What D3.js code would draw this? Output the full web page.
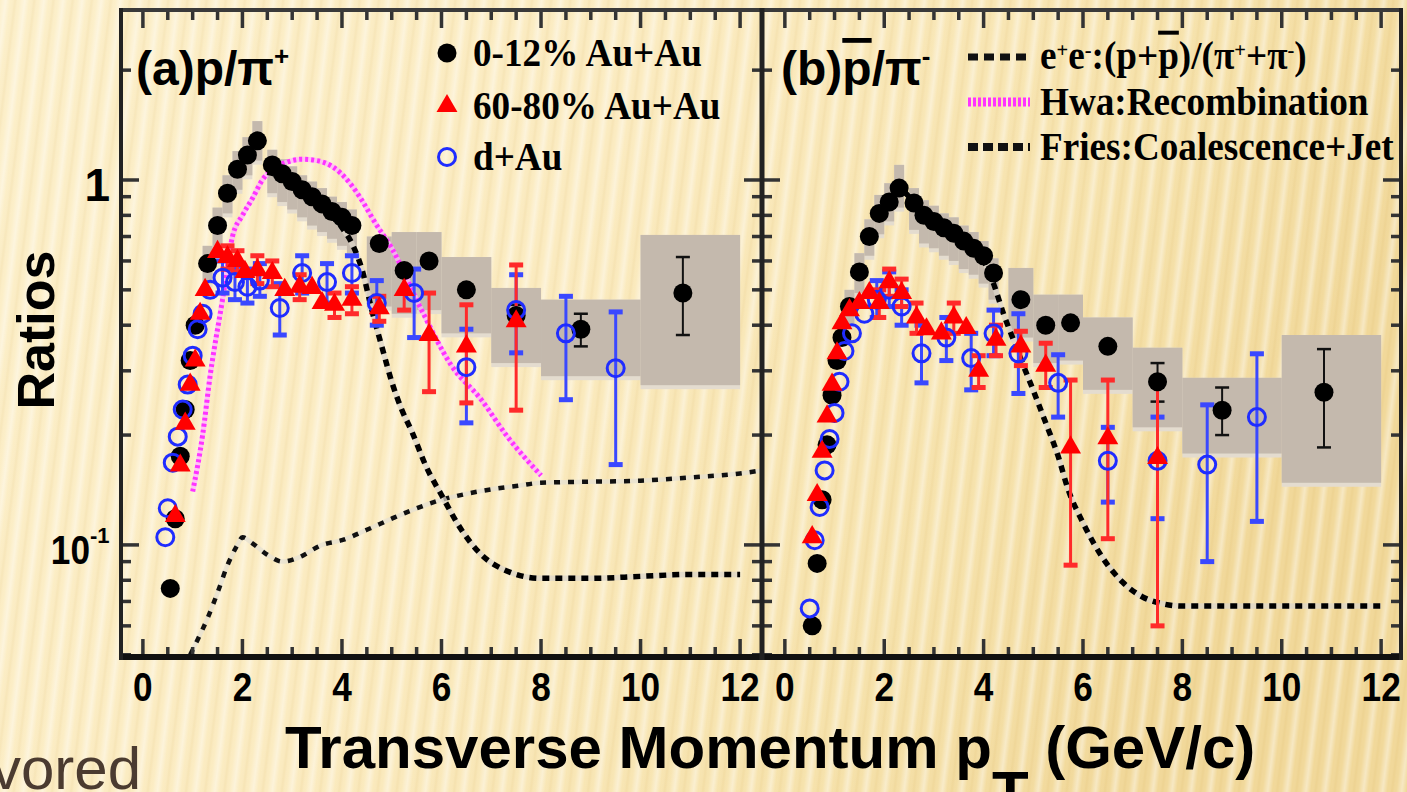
<!DOCTYPE html>
<html>
<head>
<meta charset="utf-8">
<script src="https://cdn.jsdelivr.net/npm/d3@7"></script>
<style>
  html, body { margin: 0; padding: 0; overflow: hidden; background: #fbecc3; }
  svg { display: block; }
</style>
</head>
<body>
<svg id="chart" width="1407" height="792"></svg>
<script>
// ---------- data: panel (a) p / pi+ ----------
// [pT, ratio]
const centralP = [[0.55,0.076],[0.65,0.118],[0.75,0.175],[0.85,0.235],[0.95,0.32],[1.05,0.40],
  [1.3,0.59],[1.5,0.75],[1.7,0.92],[1.9,1.07],[2.1,1.17],[2.3,1.28],
  [2.6,1.10],[2.8,1.04],[3.0,0.99],[3.2,0.94],[3.4,0.90],[3.6,0.86],[3.8,0.82],[4.0,0.79],[4.2,0.75],
  [4.75,0.67],[5.25,0.565],[5.75,0.60],[6.5,0.50],[7.5,0.425],[8.8,0.39],[10.85,0.49]];
// [pT, low, high] statistical errors
const centralPErr = [[7.5,0.40,0.455],[8.8,0.35,0.43],[10.85,0.376,0.615]];
// [pT low edge, pT high edge, low, high] systematic boxes
const centralPSys = [[1.2,1.4,0.52,0.66],[1.4,1.6,0.66,0.84],[1.6,1.8,0.81,1.03],[1.8,2.0,0.94,1.20],
  [2.0,2.2,1.03,1.31],[2.2,2.4,1.13,1.45],
  [2.5,2.7,0.92,1.21],[2.7,2.9,0.87,1.14],[2.9,3.1,0.83,1.09],[3.1,3.3,0.79,1.03],[3.3,3.5,0.75,0.99],
  [3.5,3.7,0.72,0.95],[3.7,3.9,0.69,0.90],[3.9,4.1,0.66,0.87],[4.1,4.3,0.63,0.83],
  [4.5,5.0,0.45,0.70],[5.0,5.5,0.43,0.72],[5.5,6.0,0.44,0.72],[6.0,7.0,0.38,0.615],[7.0,8.0,0.315,0.506],
  [8.0,10.0,0.29,0.47],[10.0,12.0,0.274,0.707]];

const peripheralP = [[0.65,0.12],[0.75,0.165],[0.85,0.215],[0.95,0.275],[1.05,0.32],[1.15,0.43],[1.25,0.50],
  [1.5,0.635],[1.7,0.615],[1.9,0.60],[2.05,0.56],[2.3,0.566],[2.6,0.556],[2.85,0.50],[3.15,0.51],[3.4,0.506],
  [3.6,0.46],[3.85,0.455],[4.2,0.47],[4.75,0.445],[5.25,0.50],[5.75,0.376],[6.5,0.35],[7.5,0.41]];
const peripheralPErr = [[1.7,0.57,0.66],[1.9,0.56,0.64],[2.3,0.52,0.62],[2.6,0.51,0.60],[3.15,0.47,0.55],
  [3.85,0.42,0.49],[4.2,0.43,0.51],[4.75,0.41,0.48],[5.25,0.44,0.577],[5.75,0.263,0.49],[6.5,0.245,0.455],[7.5,0.234,0.585]];

const dAuP = [[0.45,0.105],[0.5,0.126],[0.6,0.168],[0.7,0.198],[0.8,0.235],[0.9,0.275],[1.0,0.33],[1.1,0.39],
  [1.2,0.43],[1.35,0.50],[1.6,0.54],[1.85,0.525],[2.1,0.51],[2.35,0.53],[2.75,0.446],[3.2,0.556],[3.7,0.525],
  [4.2,0.556],[4.7,0.46],[5.45,0.49],[6.5,0.307],[7.5,0.44],[8.5,0.38],[9.5,0.305]];
const dAuPErr = [[1.6,0.49,0.60],[1.85,0.47,0.58],[2.1,0.46,0.57],[2.35,0.48,0.59],[2.75,0.376,0.52],[3.2,0.49,0.62],
  [3.7,0.46,0.59],[4.2,0.49,0.62],[4.7,0.40,0.53],[5.45,0.37,0.57],[6.5,0.216,0.39],[7.5,0.336,0.55],
  [8.5,0.25,0.48],[9.5,0.166,0.435]];

// model curves, panel (a)
const eeCurve = [[0.95,0.05],[1.1,0.055],[1.3,0.063],[1.5,0.074],[1.7,0.088],[1.9,0.1],[2.0,0.105],[2.2,0.101],
  [2.5,0.094],[2.8,0.09],[3.1,0.092],[3.6,0.1],[4.0,0.103],[4.5,0.11],[5.0,0.118],[5.5,0.126],[6.0,0.133],
  [6.5,0.138],[7.0,0.142],[7.5,0.145],[8.0,0.148],[9.0,0.149],[10.0,0.15],[11.0,0.153],[12.0,0.157],[12.44,0.16]];
const hwaCurve = [[1.0,0.14],[1.2,0.2],[1.35,0.29],[1.6,0.47],[1.8,0.70],[2.0,0.80],[2.2,0.89],[2.4,1.0],
  [2.6,1.07],[2.9,1.12],[3.2,1.14],[3.5,1.13],[3.8,1.09],[4.16,0.98],[4.4,0.88],[4.65,0.77],[5.0,0.65],
  [5.6,0.44],[6.2,0.31],[6.8,0.25],[7.3,0.2],[8.0,0.155]];
const friesCurveP = [[2.5,1.05],[2.8,1.02],[3.2,0.93],[3.6,0.84],[4.0,0.74],[4.2,0.67],[4.4,0.57],[4.6,0.44],
  [4.8,0.35],[5.0,0.28],[5.2,0.235],[5.4,0.205],[5.7,0.163],[6.0,0.137],[6.4,0.11],[6.8,0.094],[7.3,0.085],
  [8.0,0.081],[9.0,0.081],[10.0,0.082],[11.0,0.083],[12.0,0.083]];

// ---------- data: panel (b) pbar / pi- ----------
const centralPbar = [[0.55,0.06],[0.65,0.089],[0.75,0.133],[0.85,0.188],[0.95,0.257],[1.05,0.32],[1.15,0.37],
  [1.3,0.45],[1.5,0.56],[1.7,0.70],[1.9,0.81],[2.1,0.87],[2.3,0.95],
  [2.6,0.865],[2.8,0.80],[3.0,0.77],[3.2,0.74],[3.4,0.715],[3.6,0.68],[3.8,0.65],[4.0,0.62],[4.2,0.556],
  [4.75,0.47],[5.25,0.40],[5.75,0.406],[6.5,0.35],[7.5,0.28],[8.8,0.234],[10.85,0.262]];
const centralPbarErr = [[7.5,0.247,0.315],[8.8,0.2,0.27],[10.85,0.185,0.344]];
const centralPbarSys = [[1.2,1.4,0.40,0.50],[1.4,1.6,0.49,0.63],[1.6,1.8,0.62,0.78],[1.8,2.0,0.71,0.91],
  [2.0,2.2,0.77,0.98],[2.2,2.4,0.84,1.10],
  [2.5,2.7,0.73,0.95],[2.7,2.9,0.67,0.88],[2.9,3.1,0.65,0.85],[3.1,3.3,0.62,0.81],[3.3,3.5,0.60,0.79],
  [3.5,3.7,0.57,0.75],[3.7,3.9,0.55,0.72],[3.9,4.1,0.52,0.68],[4.1,4.3,0.47,0.61],
  [4.5,5.0,0.37,0.574],[5.0,5.5,0.315,0.485],[5.5,6.0,0.32,0.485],[6.0,7.0,0.266,0.42],[7.0,8.0,0.21,0.347],
  [8.0,10.0,0.178,0.287],[10.0,12.0,0.148,0.376]];

const peripheralPbar = [[0.55,0.105],[0.65,0.137],[0.75,0.18],[0.85,0.225],[0.95,0.275],[1.05,0.335],[1.15,0.405],
  [1.3,0.44],[1.5,0.46],[1.7,0.49],[1.9,0.46],[2.1,0.525],[2.35,0.49],[2.65,0.42],[2.85,0.39],[3.15,0.38],
  [3.4,0.42],[3.65,0.393],[3.9,0.30],[4.25,0.365],[4.75,0.35],[5.25,0.31],[5.75,0.185],[6.5,0.196],[7.5,0.173]];
const peripheralPbarErr = [[1.9,0.42,0.50],[2.1,0.48,0.57],[2.35,0.45,0.535],[2.65,0.38,0.46],[3.4,0.38,0.46],
  [3.9,0.27,0.33],[4.25,0.33,0.40],[4.75,0.31,0.385],[5.25,0.27,0.357],[5.75,0.088,0.283],[6.5,0.104,0.283],[7.5,0.06,0.283]];

const dAuPbar = [[0.5,0.067],[0.6,0.103],[0.7,0.127],[0.8,0.16],[0.9,0.195],[1.0,0.23],[1.1,0.28],[1.2,0.34],
  [1.35,0.38],[1.6,0.43],[1.85,0.47],[2.1,0.50],[2.35,0.45],[2.75,0.335],[3.25,0.37],[3.75,0.325],[4.2,0.38],
  [4.7,0.335],[5.5,0.278],[6.5,0.17],[7.5,0.17],[8.5,0.166],[9.5,0.224]];
const dAuPbarErr = [[1.85,0.42,0.53],[2.1,0.45,0.56],[2.35,0.40,0.50],[2.75,0.278,0.40],[3.25,0.32,0.42],
  [3.75,0.266,0.38],[4.2,0.33,0.44],[4.7,0.26,0.43],[5.5,0.224,0.332],[6.5,0.131,0.21],[7.5,0.118,0.224],
  [8.5,0.09,0.242],[9.5,0.116,0.334]];

const friesCurvePbar = [[2.4,0.93],[2.8,0.82],[3.2,0.74],[3.6,0.67],[4.0,0.6],[4.2,0.52],[4.4,0.43],[4.6,0.365],
  [4.8,0.31],[5.0,0.265],[5.2,0.225],[5.5,0.175],[5.7,0.142],[6.0,0.115],[6.4,0.092],[6.8,0.079],[7.2,0.072],
  [7.6,0.069],[8.0,0.068],[9.0,0.068],[10.0,0.068],[11.0,0.068],[12.0,0.068]];

// ---------- axes ----------
const xTickLabels = [0, 2, 4, 6, 8, 10, 12];
const xMinorTicks = d3.range(0, 12.01, 0.5);
const yMajorTicks = [0.1, 1];
const yMinorTicks = [0.05,0.06,0.07,0.08,0.09,0.2,0.3,0.4,0.5,0.6,0.7,0.8,0.9,2];

const legendAuAu = ["0-12% Au+Au", "60-80% Au+Au", "d+Au"];
const legendModels = ["Hwa:Recombination", "Fries:Coalescence+Jet"];

// ---------- layout ----------
const TOP = 10, BOTTOM = 657;
const y = d3.scaleLog().domain([0.0493, 2.923]).range([BOTTOM, TOP]);
const xA = d3.scaleLinear().domain([-0.44, 12.44]).range([121, 762]);
const xB = d3.scaleLinear().domain([-0.46, 12.4]).range([762, 1401]);

const svg = d3.select("#chart");
const defs = svg.append("defs");

// paper-like background
const bg = defs.append("linearGradient").attr("id", "bgGrad").attr("x1", 0).attr("x2", 1).attr("y1", 0).attr("y2", 0.3);
bg.append("stop").attr("offset", 0).attr("stop-color", "#fcefc9");
bg.append("stop").attr("offset", 0.45).attr("stop-color", "#fbebc0");
bg.append("stop").attr("offset", 0.8).attr("stop-color", "#f6e2ab");
bg.append("stop").attr("offset", 1).attr("stop-color", "#f1d899");

const sg = defs.append("linearGradient").attr("id", "stripeGrad").attr("x1", 0).attr("x2", 1).attr("y1", 0).attr("y2", 0);
sg.append("stop").attr("offset", 0).attr("stop-color", "#ffffff").attr("stop-opacity", 0);
sg.append("stop").attr("offset", 0.3).attr("stop-color", "#ffffff").attr("stop-opacity", 0.42);
sg.append("stop").attr("offset", 0.55).attr("stop-color", "#ffffff").attr("stop-opacity", 0);
sg.append("stop").attr("offset", 0.8).attr("stop-color", "#c89a40").attr("stop-opacity", 0.10);
sg.append("stop").attr("offset", 1).attr("stop-color", "#ffffff").attr("stop-opacity", 0);

const pat = defs.append("pattern").attr("id", "stripes").attr("patternUnits", "userSpaceOnUse")
  .attr("width", 19).attr("height", 400).attr("patternTransform", "rotate(7)");
pat.append("rect").attr("width", 19).attr("height", 400).attr("fill", "url(#stripeGrad)");

svg.append("rect").attr("width", 1407).attr("height", 792).attr("fill", "url(#bgGrad)");
svg.append("rect").attr("width", 1407).attr("height", 792).attr("fill", "url(#stripes)");

const SANS = "'Liberation Sans', Arial, Helvetica, sans-serif";
const SERIF = "'Liberation Serif', 'Times New Roman', serif";

function drawPanel(id, x, d) {
  const g = svg.append("g").attr("class", "panel-" + id);
  const [x0, x1] = x.range();
  defs.append("clipPath").attr("id", "clip-" + id)
    .append("rect").attr("x", x0).attr("y", TOP).attr("width", x1 - x0).attr("height", BOTTOM - TOP);
  const plot = g.append("g").attr("clip-path", `url(#clip-${id})`);

  // systematic error boxes, with a pale lower rim
  const boxes = plot.append("g");
  boxes.selectAll("rect.rim").data(d.sys).join("rect").attr("class", "rim")
    .attr("x", b => x(b[0])).attr("width", b => x(b[1]) - x(b[0]))
    .attr("y", b => y(b[3])).attr("height", b => y(b[2]) - y(b[3]) + 4)
    .attr("fill", "#e4dccf");
  boxes.selectAll("rect.box").data(d.sys).join("rect").attr("class", "box")
    .attr("x", b => x(b[0])).attr("width", b => x(b[1]) - x(b[0]))
    .attr("y", b => y(b[3])).attr("height", b => y(b[2]) - y(b[3]))
    .attr("fill", "#c4b9ad");

  // model curves: pale underlay, then the dotted line
  const line = d3.line().x(p => x(p[0])).y(p => y(p[1])).curve(d3.curveMonotoneX);
  d.curves.forEach(c => {
    plot.append("path").attr("d", line(c.data)).attr("fill", "none")
      .attr("stroke", c.halo).attr("stroke-width", c.width).attr("stroke-opacity", 0.75);
    plot.append("path").attr("d", line(c.data)).attr("fill", "none")
      .attr("stroke", c.color).attr("stroke-width", c.width).attr("stroke-dasharray", c.dash);
  });

  // error bars
  function errBars(data, color, width, capW, capH) {
    const eg = plot.append("g");
    eg.selectAll("line").data(data).join("line")
      .attr("x1", e => x(e[0])).attr("x2", e => x(e[0]))
      .attr("y1", e => y(e[1])).attr("y2", e => y(e[2]))
      .attr("stroke", color).attr("stroke-width", width);
    data.forEach(e => {
      [e[1], e[2]].forEach(v => {
        eg.append("rect").attr("x", x(e[0]) - capW / 2).attr("y", y(v) - capH / 2)
          .attr("width", capW).attr("height", capH).attr("fill", color);
      });
    });
  }
  errBars(d.centralErr, "#111111", 2, 14, 2.5);
  errBars(d.dAuErr, "#3a48ff", 3, 14, 5);
  errBars(d.periphErr, "#ff2a2a", 3, 14, 5);

  // markers
  plot.append("g").selectAll("circle").data(d.central).join("circle")
    .attr("cx", p => x(p[0])).attr("cy", p => y(p[1])).attr("r", 9.5).attr("fill", "#000");
  plot.append("g").selectAll("circle").data(d.dAu).join("circle")
    .attr("cx", p => x(p[0])).attr("cy", p => y(p[1])).attr("r", 8.5)
    .attr("fill", "none").attr("stroke", "#1f2cff").attr("stroke-width", 3);
  const tri = d3.symbol(d3.symbolTriangle, 190);
  plot.append("g").selectAll("path").data(d.periph).join("path")
    .attr("d", tri).attr("transform", p => `translate(${x(p[0])},${y(p[1])})`).attr("fill", "#ff0000");

  // ticks
  const tk = g.append("g").attr("stroke", "#333").attr("stroke-width", 3.5);
  xMinorTicks.forEach(v => {
    const len = (v % 2 === 0) ? 18 : 10;
    tk.append("line").attr("x1", x(v)).attr("x2", x(v)).attr("y1", BOTTOM).attr("y2", BOTTOM - len);
    tk.append("line").attr("x1", x(v)).attr("x2", x(v)).attr("y1", TOP).attr("y2", TOP + len);
  });
  yMajorTicks.concat(yMinorTicks).forEach(v => {
    const len = yMajorTicks.includes(v) ? 18 : 10;
    tk.append("line").attr("x1", x0).attr("x2", x0 + len).attr("y1", y(v)).attr("y2", y(v));
    tk.append("line").attr("x1", x1).attr("x2", x1 - len).attr("y1", y(v)).attr("y2", y(v));
  });

  // x tick labels
  g.append("g").selectAll("text").data(xTickLabels).join("text")
    .attr("transform", v => `translate(${x(v)},701) scale(0.88,1)`)
    .attr("text-anchor", "middle").attr("font-family", SANS).attr("font-weight", "bold")
    .attr("font-size", 40).attr("fill", "#000").text(v => v);
  return g;
}

drawPanel("a", xA, {
  central: centralP, centralErr: centralPErr, sys: centralPSys,
  periph: peripheralP, periphErr: peripheralPErr, dAu: dAuP, dAuErr: dAuPErr,
  curves: [
    { data: eeCurve, color: "#111", halo: "#e6e0d2", width: 4.5, dash: "6,8" },
    { data: hwaCurve, color: "#ff33ff", halo: "#ffb3ff", width: 5, dash: "3,3" },
    { data: friesCurveP, color: "#000", halo: "#dcd6ca", width: 5.5, dash: "7,6" }
  ]
});
drawPanel("b", xB, {
  central: centralPbar, centralErr: centralPbarErr, sys: centralPbarSys,
  periph: peripheralPbar, periphErr: peripheralPbarErr, dAu: dAuPbar, dAuErr: dAuPbarErr,
  curves: [
    { data: friesCurvePbar, color: "#000", halo: "#dcd6ca", width: 5.5, dash: "7,6" }
  ]
});

// frame
const frame = svg.append("g").attr("fill", "none");
frame.append("line").attr("x1", 119).attr("x2", 1403).attr("y1", TOP).attr("y2", TOP).attr("stroke", "#3a3a3a").attr("stroke-width", 4);
frame.append("line").attr("x1", 119).attr("x2", 1403).attr("y1", BOTTOM).attr("y2", BOTTOM).attr("stroke", "#111").attr("stroke-width", 6);
[121, 762, 1401].forEach(px => {
  frame.append("line").attr("x1", px).attr("x2", px).attr("y1", TOP - 2).attr("y2", BOTTOM + 3)
    .attr("stroke", "#222").attr("stroke-width", px === 762 ? 5 : 4);
});

// y tick labels
svg.append("text").attr("transform", `translate(${110},${y(1) + 21})`)
  .attr("text-anchor", "end").attr("font-family", SANS).attr("font-weight", "bold").attr("font-size", 46).text("1");
svg.append("text").attr("transform", `translate(${90},${y(0.1) + 19}) scale(0.88,1)`)
  .attr("text-anchor", "end").attr("font-family", SANS).attr("font-weight", "bold").attr("font-size", 40).text("10");
svg.append("text").attr("x", 90).attr("y", y(0.1) - 2)
  .attr("font-family", SANS).attr("font-weight", "bold").attr("font-size", 22).text("-1");

// axis titles
svg.append("text").attr("transform", "translate(54,330) rotate(-90)")
  .attr("text-anchor", "middle").attr("font-family", SANS).attr("font-weight", "bold")
  .attr("font-size", 52).attr("fill", "#000").text("Ratios");
const xt = svg.append("text").attr("x", 285).attr("y", 768)
  .attr("font-family", SANS).attr("font-weight", "bold").attr("font-size", 60).attr("fill", "#000");
xt.append("tspan").text("Transverse Momentum p");
xt.append("tspan").attr("dy", 45).text("T");
xt.append("tspan").attr("dy", -45).text(" (GeV/c)");

// panel labels
const la = svg.append("text").attr("x", 136).attr("y", 85)
  .attr("font-family", SANS).attr("font-weight", "bold").attr("font-size", 48).attr("fill", "#000");
la.append("tspan").text("(a)p/\u03c0");
la.append("tspan").attr("dy", -20).attr("font-size", 26).text("+");
const lb = svg.append("text").attr("x", 781).attr("y", 85)
  .attr("font-family", SANS).attr("font-weight", "bold").attr("font-size", 48).attr("fill", "#000");
lb.append("tspan").text("(b)");
lb.append("tspan").attr("text-decoration", "overline").text("p");
lb.append("tspan").text("/\u03c0");
lb.append("tspan").attr("dy", -20).attr("font-size", 26).text("-");

// legend: data sets
const legA = svg.append("g");
const legRows = [53, 106, 157];
legA.append("circle").attr("cx", 447).attr("cy", legRows[0]).attr("r", 9.5).attr("fill", "#000");
legA.append("path").attr("d", d3.symbol(d3.symbolTriangle, 190))
  .attr("transform", `translate(447,${legRows[1]})`).attr("fill", "#ff0000");
legA.append("circle").attr("cx", 447).attr("cy", legRows[2]).attr("r", 8.5)
  .attr("fill", "none").attr("stroke", "#1f2cff").attr("stroke-width", 3);
legendAuAu.forEach((t, i) => {
  legA.append("text").attr("transform", `translate(473,${legRows[i] + 13}) scale(0.93,1)`)
    .attr("font-family", SERIF).attr("font-weight", "bold").attr("font-size", 40).attr("fill", "#000").text(t);
});

// legend: models
const legB = svg.append("g");
const modelRows = [57, 102, 147];
const modelStyles = [
  { color: "#111", width: 7, dash: "10,6" },
  { color: "#ff33ff", width: 9, dash: "3,2" },
  { color: "#111", width: 8, dash: "10,5" }
];
modelStyles.forEach((s, i) => {
  legB.append("line").attr("x1", 968).attr("x2", 1030).attr("y1", modelRows[i]).attr("y2", modelRows[i])
    .attr("stroke", s.color).attr("stroke-width", s.width).attr("stroke-dasharray", s.dash);
});
const ee = legB.append("text").attr("transform", `translate(1040,${modelRows[0] + 12}) scale(0.93,1)`)
  .attr("font-family", SERIF).attr("font-weight", "bold").attr("font-size", 40).attr("fill", "#000");
ee.append("tspan").text("e");
ee.append("tspan").attr("dy", -12).attr("font-size", 22).text("+");
ee.append("tspan").attr("dy", 12).text("e");
ee.append("tspan").attr("dy", -12).attr("font-size", 22).text("-");
ee.append("tspan").attr("dy", 12).text(":(p+");
ee.append("tspan").attr("text-decoration", "overline").text("p");
ee.append("tspan").text(")/(\u03c0");
ee.append("tspan").attr("dy", -12).attr("font-size", 22).text("+");
ee.append("tspan").attr("dy", 12).text("+\u03c0");
ee.append("tspan").attr("dy", -12).attr("font-size", 22).text("-");
ee.append("tspan").attr("dy", 12).text(")");
legendModels.forEach((t, i) => {
  legB.append("text").attr("transform", `translate(1040,${modelRows[i + 1] + 13}) scale(0.93,1)`)
    .attr("font-family", SERIF).attr("font-weight", "bold").attr("font-size", 40).attr("fill", "#000").text(t);
});

// slide text fragment at the lower left
svg.append("text").attr("x", 141).attr("y", 789).attr("text-anchor", "end")
  .attr("font-family", SANS).attr("font-size", 60).attr("fill", "#4b3b30").text("vored");
</script>
</body>
</html>
